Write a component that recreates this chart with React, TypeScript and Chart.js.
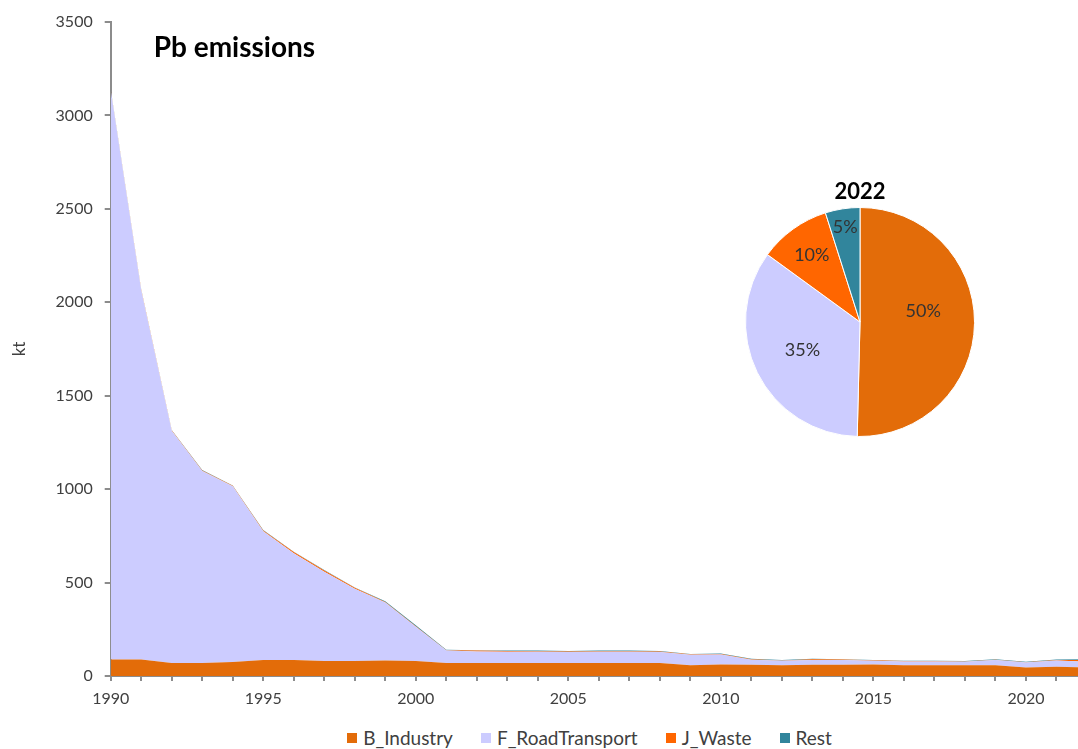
import React, { useEffect, useRef } from "react";
import { Chart, registerables } from "chart.js";

Chart.register(...registerables);

// Pb emissions by sector, kt
const years = [
  "1990", "1991", "1992", "1993", "1994", "1995", "1996", "1997", "1998", "1999",
  "2000", "2001", "2002", "2003", "2004", "2005", "2006", "2007", "2008", "2009",
  "2010", "2011", "2012", "2013", "2014", "2015", "2016", "2017", "2018", "2019",
  "2020", "2021", "2022",
];

const industry = [
  88, 88, 70, 70, 75, 85, 85, 80, 80, 83,
  80, 70, 70, 70, 70, 70, 70, 70, 70, 58,
  62, 60, 57, 60, 60, 62, 57, 57, 57, 57,
  46, 50, 45.4,
];

const roadTransport = [
  3047, 1977, 1242, 1027, 940, 690, 572, 478, 387, 310,
  183, 66, 61, 60, 60, 59, 60, 60, 59, 56,
  53, 27, 24, 26, 25, 20, 20, 20, 19, 28,
  26, 33, 31.2,
];

const waste = [
  3, 3, 3, 3, 3, 4, 6, 7, 5, 3,
  3, 2, 5, 4, 2, 2, 2, 2, 2, 2,
  3, 3, 2, 4, 3, 2, 3, 3, 2, 2,
  2, 3, 9.1,
];

const rest = [
  2, 2, 2, 2, 2, 2, 2, 2, 2, 4,
  6, 3, 2, 2, 4, 3, 4, 4, 3, 2,
  2, 2, 3, 2, 2, 2, 2, 2, 2, 2,
  2, 2, 4.4,
];

const seriesNames = ["B_Industry", "F_RoadTransport", "J_Waste", "Rest"];
const seriesData = [industry, roadTransport, waste, rest];
const seriesColors = ["#E36C09", "#CCCCFF", "#FF6600", "#31859C"];

const yMin = 0;
const yMax = 3500;
const yStep = 500;
const labelEvery = 5;

const chartTitle = "Pb emissions";
const pieYear = years[years.length - 1];
const pieValues = seriesData.map((s) => s[s.length - 1]);

const FONT = "Lato, 'Open Sans', sans-serif";
const TEXT = "#404040";
const AXIS = "#8C8C8C";

const titlePlugin = {
  id: "pbTitle",
  afterDraw(chart: any) {
    const { ctx, chartArea } = chart;
    ctx.save();
    ctx.font = `bold 28px ${FONT}`;
    ctx.fillStyle = "#000";
    ctx.textAlign = "left";
    ctx.textBaseline = "middle";
    ctx.fillText(chartTitle, chartArea.left + 43, chartArea.top + 26);
    ctx.restore();
  },
};

const pieLabelPlugin = {
  id: "pieLabels",
  afterDatasetsDraw(chart: any) {
    const meta = chart.getDatasetMeta(0);
    const values = chart.data.datasets[0].data as number[];
    const total = values.reduce((a, b) => a + b, 0);
    const ctx = chart.ctx;
    ctx.save();
    ctx.font = `18px ${FONT}`;
    ctx.fillStyle = "#333333";
    ctx.textAlign = "center";
    ctx.textBaseline = "middle";
    meta.data.forEach((arc: any, i: number) => {
      const { x, y, startAngle, endAngle, outerRadius } = arc.getProps(
        ["x", "y", "startAngle", "endAngle", "outerRadius"],
        true
      );
      const share = values[i] / total;
      const k = share >= 0.2 ? 0.56 : share >= 0.08 ? 0.72 : 0.84;
      // the largest slice's label sits a little above its bisector
      const mid = (startAngle + endAngle) / 2 - (share >= 0.45 ? 0.18 : 0);
      ctx.fillText(
        `${Math.round(share * 100)}%`,
        x + Math.cos(mid) * outerRadius * k,
        y + Math.sin(mid) * outerRadius * k
      );
    });
    ctx.restore();
  },
};

export default function App() {
  const areaRef = useRef<HTMLCanvasElement | null>(null);
  const pieRef = useRef<HTMLCanvasElement | null>(null);

  useEffect(() => {
    if (!areaRef.current || !pieRef.current) return;

    const area = new Chart(areaRef.current, {
      type: "line",
      data: {
        labels: years,
        datasets: seriesData.map((data, i) => ({
          label: seriesNames[i],
          data,
          backgroundColor: seriesColors[i],
          borderColor: "rgba(0,0,0,0)",
          borderWidth: 0,
          pointRadius: 0,
          tension: 0,
          fill: i === 0 ? "origin" : "-1",
        })),
      },
      options: {
        animation: false,
        responsive: false,
        layout: { padding: { top: 22, left: 5, right: 13, bottom: 0 } },
        plugins: {
          legend: { display: false },
          tooltip: { enabled: false },
        },
        scales: {
          x: {
            type: "category",
            offset: false,
            grid: {
              display: true,
              drawOnChartArea: false,
              drawTicks: true,
              tickLength: 5,
              color: AXIS,
              lineWidth: 2,
              offset: false,
            },
            border: { display: true, color: AXIS, width: 2 },
            ticks: {
              autoSkip: false,
              maxRotation: 0,
              minRotation: 0,
              padding: 8,
              color: TEXT,
              font: { family: FONT, size: 16 },
              callback: (_v: any, i: number) =>
                Number(years[i]) % labelEvery === 0 ? years[i] : "",
            },
            afterFit: (s: any) => {
              s.height = 44;
            },
          },
          y: {
            stacked: true,
            min: yMin,
            max: yMax,
            ticks: {
              stepSize: yStep,
              padding: 12,
              color: TEXT,
              font: { family: FONT, size: 16 },
              callback: (v: any) => String(v),
            },
            grid: {
              drawOnChartArea: false,
              drawTicks: true,
              tickLength: 6,
              color: AXIS,
              lineWidth: 2,
            },
            border: { display: true, color: AXIS, width: 2 },
            title: {
              display: true,
              text: "kt",
              color: TEXT,
              font: { family: FONT, size: 17 },
              padding: { top: 4, bottom: 4 },
            },
            afterFit: (s: any) => {
              s.width = 105.7;
            },
          },
        },
      },
      plugins: [titlePlugin],
    });

    const pie = new Chart(pieRef.current, {
      type: "pie",
      data: {
        labels: seriesNames,
        datasets: [
          {
            data: pieValues,
            backgroundColor: seriesColors,
            borderColor: "#FFFFFF",
            borderWidth: 1,
          },
        ],
      },
      options: {
        animation: false,
        responsive: false,
        layout: { padding: { left: 2, right: 2, bottom: 2, top: 0 } },
        plugins: {
          legend: { display: false },
          tooltip: { enabled: false },
          title: {
            display: true,
            text: pieYear,
            color: "#000",
            font: { family: FONT, size: 22, weight: "bold" },
            padding: { top: 0, bottom: 1.6 },
          },
        },
      },
      plugins: [pieLabelPlugin],
    });

    return () => {
      area.destroy();
      pie.destroy();
    };
  }, []);

  return (
    <div
      style={{
        position: "fixed",
        left: 0,
        top: 0,
        width: 1078,
        height: 749,
        overflow: "hidden",
        background: "#fff",
      }}
    >
      <canvas
        ref={areaRef}
        width={1100}
        height={720}
        style={{ position: "absolute", left: 0, top: 0, width: 1100, height: 720 }}
      />
      <canvas
        ref={pieRef}
        width={234}
        height={260}
        style={{ position: "absolute", left: 743, top: 179, width: 234, height: 260 }}
      />
      <div
        style={{
          position: "absolute",
          left: 0,
          width: 1179,
          top: 727,
          display: "flex",
          justifyContent: "center",
          gap: 28,
          fontFamily: FONT,
          fontSize: 19,
          lineHeight: "22px",
          color: TEXT,
        }}
      >
        {seriesNames.map((name, i) => (
          <div key={name} style={{ display: "flex", alignItems: "center", whiteSpace: "nowrap" }}>
            <span
              style={{
                display: "inline-block",
                width: 10,
                height: 10,
                background: seriesColors[i],
                marginRight: 6,
              }}
            />
            {name}
          </div>
        ))}
      </div>
    </div>
  );
}
